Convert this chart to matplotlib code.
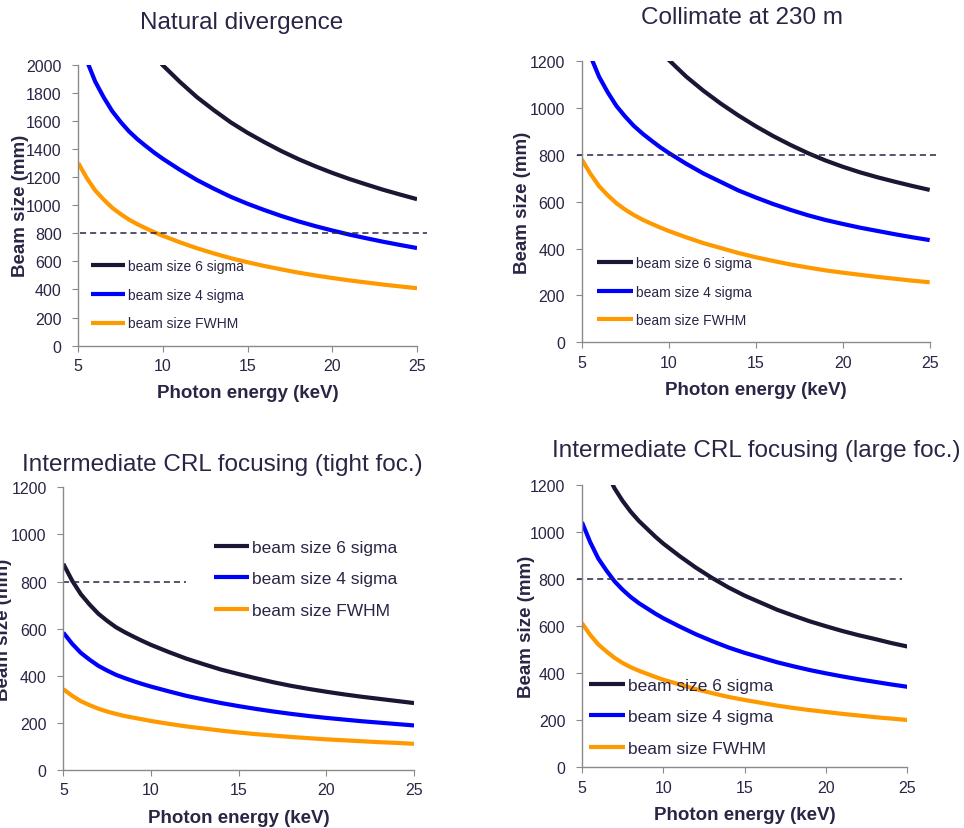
import numpy as np
import matplotlib.pyplot as plt

plt.rcParams['font.family'] = ['Liberation Sans', 'DejaVu Sans']

nan = np.nan
energy = [5, 5.5, 6, 6.5, 7, 7.5, 8, 8.5, 9, 9.5, 10, 11, 12, 13, 14, 15,
          16, 17, 18, 19, 20, 21, 22, 23, 24, 25]

# beam size (mm) for each optics case
nat_6s = [nan, nan, nan, nan, nan, nan, nan, nan, 2130, 2060, 1995, 1878, 1770,
          1677, 1590, 1515, 1448, 1385, 1328, 1277, 1230, 1187, 1148, 1110, 1076, 1043]
nat_4s = [2210, 2030, 1880, 1768, 1670, 1593, 1525, 1469, 1420, 1373, 1330, 1252,
          1180, 1118, 1060, 1010, 965, 923, 885, 851, 820, 791, 765, 740, 717, 695]
nat_fwhm = [1300, 1194, 1105, 1040, 982, 937, 897, 864, 835, 807, 782, 736, 694,
            657, 623, 594, 567, 543, 520, 500, 482, 465, 450, 435, 422, 409]

col_6s = [nan, nan, nan, nan, nan, nan, nan, nan, 1290, 1245, 1205, 1134, 1073,
          1018, 968, 922, 880, 842, 807, 776, 749, 725, 704, 685, 667, 650]
col_4s = [1328, 1222, 1133, 1066, 1008, 963, 923, 890, 861, 833, 808, 762, 720,
          684, 648, 618, 590, 565, 542, 522, 505, 489, 475, 461, 448, 436]
col_fwhm = [781, 719, 666, 627, 593, 566, 543, 523, 506, 490, 475, 448, 423, 402,
            381, 363, 347, 332, 319, 307, 297, 288, 279, 271, 263, 256]

tight_6s = [875, 804, 746, 702, 663, 633, 606, 585, 566, 548, 531, 501, 473, 449,
            426, 407, 389, 372, 357, 344, 332, 321, 311, 302, 293, 284]
tight_4s = [583, 536, 497, 468, 442, 422, 404, 390, 377, 365, 354, 334, 315, 299,
            284, 271, 259, 248, 238, 229, 221, 214, 207, 201, 195, 189]
tight_fwhm = [343, 315, 292, 275, 260, 248, 238, 229, 222, 215, 208, 196, 185, 176,
              167, 159, 152, 146, 140, 135, 130, 126, 122, 118, 115, 111]

large_6s = [nan, nan, 1331, 1254, 1185, 1131, 1085, 1046, 1013, 980, 950, 897, 848,
            804, 764, 729, 699, 669, 644, 620, 599, 579, 561, 545, 528, 513]
large_4s = [1041, 957, 887, 836, 790, 754, 723, 697, 675, 653, 633, 598, 565, 536,
            509, 486, 466, 446, 429, 413, 399, 386, 374, 363, 352, 342]
large_fwhm = [612, 563, 522, 492, 465, 443, 425, 410, 397, 384, 372, 352, 332, 315,
              299, 286, 274, 262, 252, 243, 235, 227, 220, 213, 207, 201]

limit = 800
labels = ['beam size 6 sigma', 'beam size 4 sigma', 'beam size FWHM']
colors = ['#1b1633', '#0000ff', '#ff9900']
txt = '#2a2545'
grey = '#8a8a8a'

fig = plt.figure(figsize=(9.64, 8.29), dpi=100)


def panel(rect, series, ymax, dash_x, leg_anchor, leg_size, handlen, spacing):
    ax = fig.add_axes(rect)
    for s, c, lab in zip(series, colors, labels):
        ax.plot(energy, s, color=c, lw=3, label=lab, solid_capstyle='butt',
                solid_joinstyle='round')
    ax.plot(dash_x, [limit, limit], color=txt, lw=1.1, ls=(0, (4, 2.6)), clip_on=False)
    ax.set_xlim(5, 25)
    ax.set_ylim(0, ymax)
    ax.set_xticks(range(5, 26, 5))
    ax.set_yticks(range(0, ymax + 1, 200))
    for side in ['top', 'right']:
        ax.spines[side].set_visible(False)
    for side in ['left', 'bottom']:
        ax.spines[side].set_color(grey)
        ax.spines[side].set_linewidth(1)
    ax.tick_params(axis='x', colors=grey, labelcolor=txt, labelsize=11.5, length=4, pad=5)
    ax.tick_params(axis='y', colors=grey, labelcolor=txt, labelsize=11.5, length=4, pad=8)
    ax.set_xlabel('Photon energy (keV)', fontsize=13.5, fontweight='bold', color=txt)
    ax.xaxis.set_label_coords(0.5, -0.168)
    ax.xaxis.label.set_va('center')
    ax.set_ylabel('Beam size (mm)', fontsize=13.5, fontweight='bold', color=txt)
    ax.yaxis.set_label_coords(-0.145, 0.5)
    ax.legend(loc='center left', bbox_to_anchor=leg_anchor, frameon=False,
              borderpad=0, borderaxespad=0, fontsize=leg_size,
              handlelength=handlen, handletextpad=0.2, labelspacing=spacing,
              labelcolor=txt)
    return ax


panel([0.0812, 0.5818, 0.3514, 0.3389], [nat_6s, nat_4s, nat_fwhm], 2000,
      [5.1, 25.57], (0.0375, 0.181), 10, 2.45, 1.05)
panel([0.6034, 0.5859, 0.3610, 0.3393], [col_6s, col_4s, col_fwhm], 1200,
      [4.71, 25.6], (0.043, 0.18), 10, 2.6, 1.05)
panel([0.0657, 0.0700, 0.3638, 0.3410], [tight_6s, tight_4s, tight_fwhm], 1200,
      [5, 12], (0.43, 0.676), 12.5, 2.0, 0.95)
panel([0.6037, 0.0732, 0.3375, 0.3409], [large_6s, large_4s, large_fwhm], 1200,
      [4.7, 24.7], (0.022, 0.179), 12.5, 2.05, 0.95)

title_kw = dict(fontsize=17.5, color=txt, ha='center', va='center')
fig.text(241.7 / 964, 1 - 23 / 829, 'Natural divergence', **title_kw)
fig.text(741.7 / 964, 1 - 18 / 829, 'Collimate at 230 m', **title_kw)
fig.text(222 / 964, 1 - 465 / 829, 'Intermediate CRL focusing (tight foc.)', **title_kw)
fig.text(755.8 / 964, 1 - 450.7 / 829, 'Intermediate CRL focusing (large foc.)', **title_kw)

fig.savefig('out.png', dpi=100)
plt.close(fig)
